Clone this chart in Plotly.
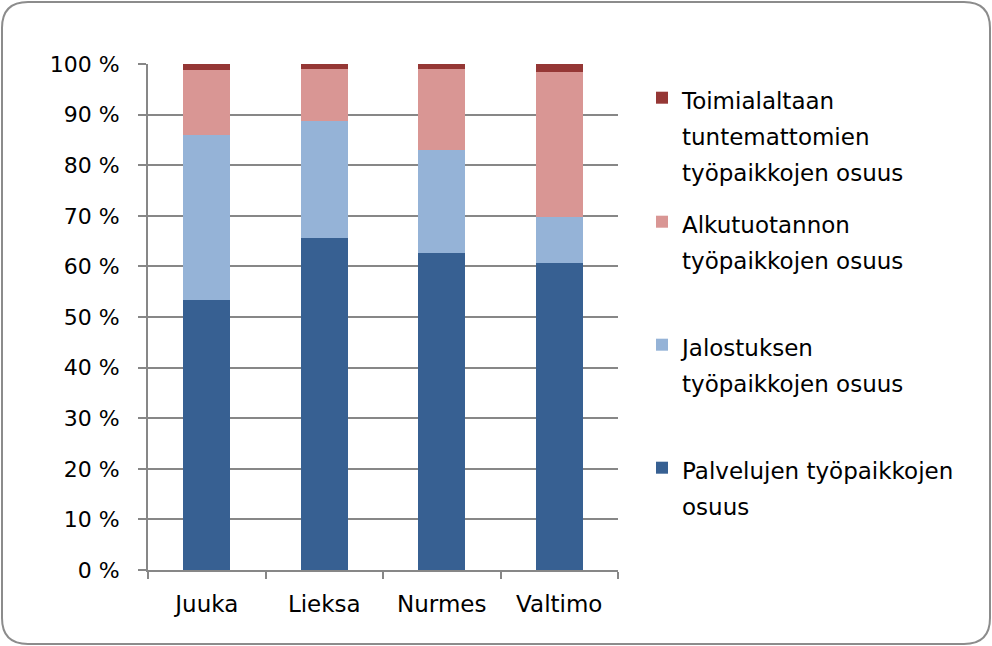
import plotly.graph_objects as go

categories = ["Juuka", "Lieksa", "Nurmes", "Valtimo"]
palvelut = [53.3, 65.7, 62.6, 60.7]
jalostus = [32.7, 23.1, 20.5, 9.0]
alkutuotanto = [12.9, 10.2, 15.9, 28.8]
tuntematon = [1.1, 1.0, 1.0, 1.5]

y_tickvals = [0, 10, 20, 30, 40, 50, 60, 70, 80, 90, 100]
y_ticktext = ["0 %", "10 %", "20 %", "30 %", "40 %", "50 %", "60 %", "70 %", "80 %", "90 %", "100 %"]

series_names = [
    "Palvelujen työpaikkojen<br>osuus",
    "Jalostuksen<br>työpaikkojen osuus",
    "Alkutuotannon<br>työpaikkojen osuus",
    "Toimialaltaan<br>tuntemattomien<br>työpaikkojen osuus",
]
series_values = [palvelut, jalostus, alkutuotanto, tuntematon]
colors = ["#376092", "#95B3D7", "#D99694", "#953735"]
legend_ids = ["legend4", "legend3", "legend2", "legend"]

FONT = "DejaVu Sans"
fig = go.Figure()
for name, vals, col, lid in zip(series_names, series_values, colors, legend_ids):
    fig.add_trace(go.Bar(
        x=categories, y=vals,
        name=f"<span style='font-size:23px'>{name}</span>",
        marker=dict(color=col, line=dict(width=0)),
        legend=lid,
    ))

W, H = 992, 646
L, R, T, B = 148, 618, 64, 570
pw, ph = R - L, B - T

def px_x(x):
    return (x - L) / pw

def px_y(y):
    return (B - y) / ph

legend_tops = [73, 197, 320, 443]
leg_common = dict(
    font=dict(family=FONT, size=28, color="#000000"),
    bgcolor="rgba(0,0,0,0)", borderwidth=0,
    xanchor="left", yanchor="top", valign="top",
    x=px_x(642),
)
fig.update_layout(
    legend=dict(**leg_common, y=px_y(legend_tops[0])),
    legend2=dict(**leg_common, y=px_y(legend_tops[1])),
    legend3=dict(**leg_common, y=px_y(legend_tops[2])),
    legend4=dict(**leg_common, y=px_y(legend_tops[3])),
)

fig.update_layout(
    barmode="stack",
    bargap=0.6,
    width=W, height=H,
    margin=dict(l=L, r=W - R, t=T, b=H - B, pad=0),
    paper_bgcolor="white",
    plot_bgcolor="white",
    font=dict(family=FONT, size=22, color="#000000"),
    showlegend=True,
    xaxis=dict(
        type="category",
        tickson="boundaries",
        ticks="outside", ticklen=7, tickwidth=2, tickcolor="#878787",
        showline=True, linecolor="#878787", linewidth=2,
        showgrid=False,
        tickfont=dict(family=FONT, size=23, color="#000000"),
        ticklabelstandoff=12,
    ),
    yaxis=dict(
        range=[0, 100],
        tickmode="array",
        tickvals=y_tickvals,
        ticktext=y_ticktext,
        ticks="outside", ticklen=8, tickwidth=2, tickcolor="#878787",
        showline=True, linecolor="#878787", linewidth=2,
        showgrid=True, gridcolor="#878787", gridwidth=2,
        zeroline=False,
        tickfont=dict(family=FONT, size=22, color="#000000"),
        ticklabelstandoff=14,
    ),
)

# rounded chart border
x0, y0, x1, y1, r = 2, 2, 990, 644, 26
path = (f"M {px_x(x0 + r)},{px_y(y0)} L {px_x(x1 - r)},{px_y(y0)} "
        f"Q {px_x(x1)},{px_y(y0)} {px_x(x1)},{px_y(y0 + r)} "
        f"L {px_x(x1)},{px_y(y1 - r)} Q {px_x(x1)},{px_y(y1)} {px_x(x1 - r)},{px_y(y1)} "
        f"L {px_x(x0 + r)},{px_y(y1)} Q {px_x(x0)},{px_y(y1)} {px_x(x0)},{px_y(y1 - r)} "
        f"L {px_x(x0)},{px_y(y0 + r)} Q {px_x(x0)},{px_y(y0)} {px_x(x0 + r)},{px_y(y0)} Z")
fig.add_shape(type="path", path=path, xref="paper", yref="paper",
              line=dict(color="#8c8c8c", width=2), layer="above")

fig.write_html("out.html")
